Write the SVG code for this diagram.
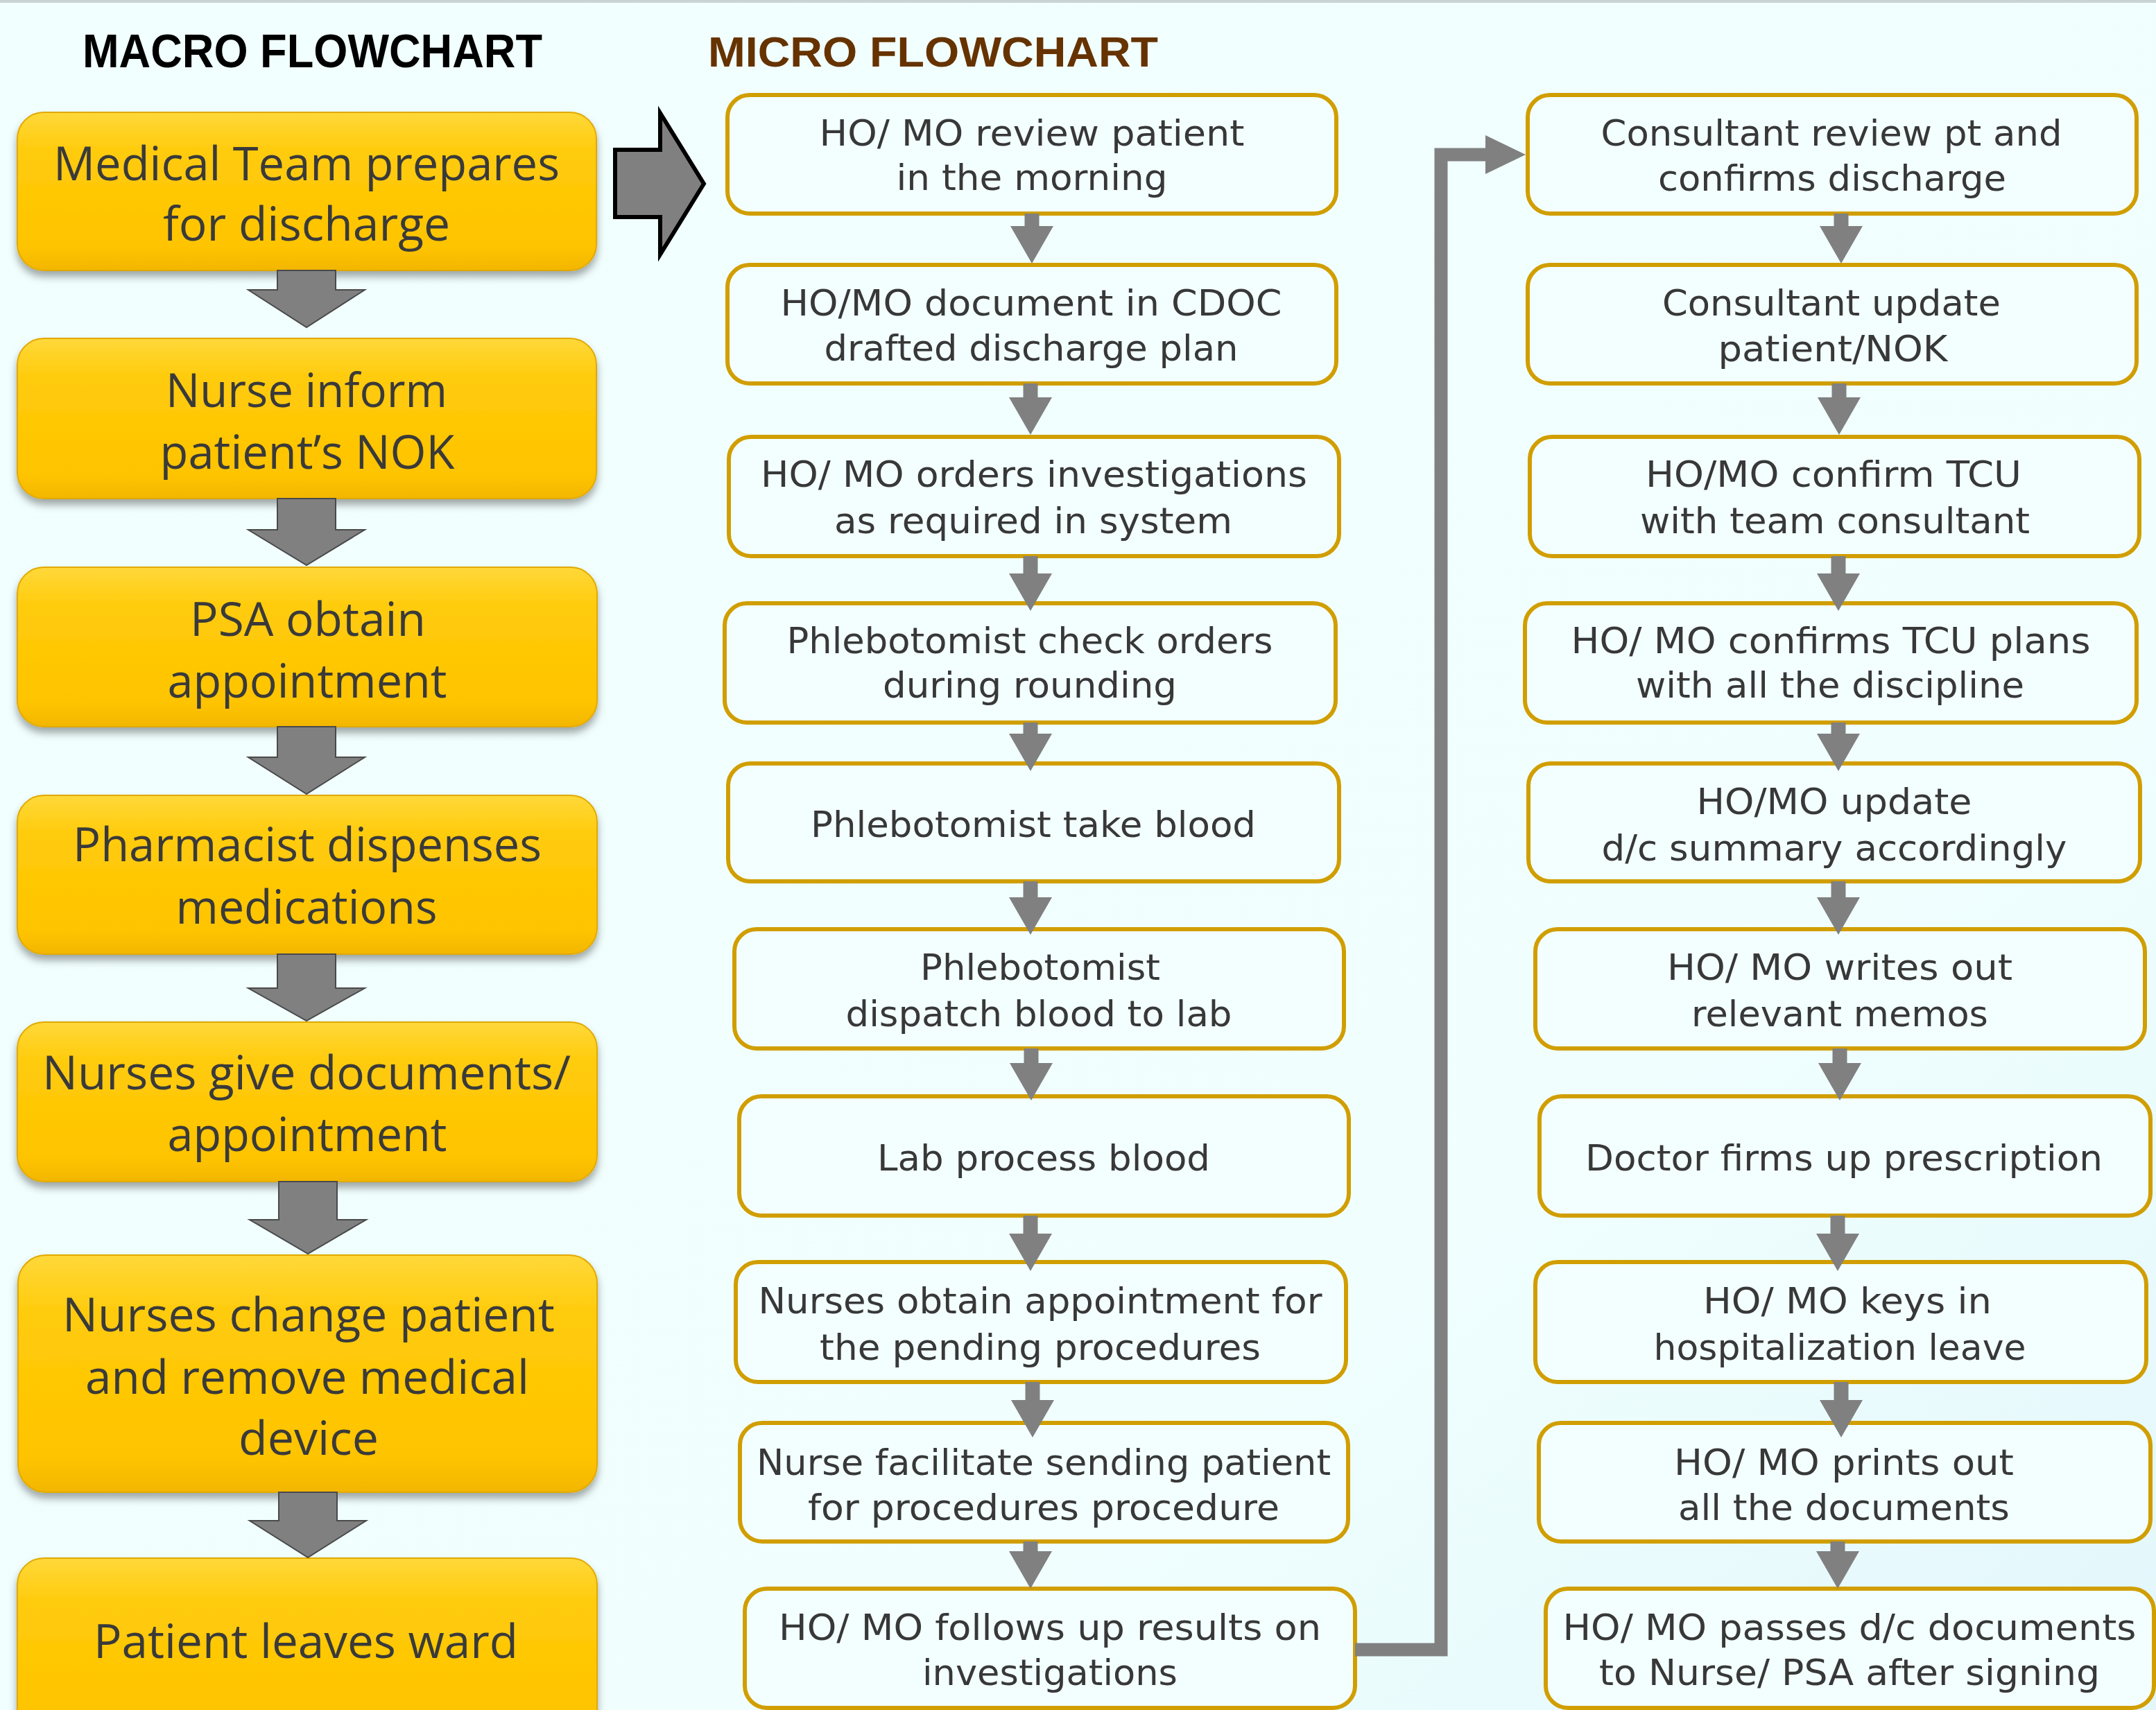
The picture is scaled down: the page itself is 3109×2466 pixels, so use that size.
<svg xmlns="http://www.w3.org/2000/svg" width="3109" height="2466" viewBox="0 0 3109 2466">
<defs>
<linearGradient id="bg" x1="0" y1="0" x2="1" y2="1">
<stop offset="0" stop-color="#F1FFFE"/>
<stop offset="0.7" stop-color="#F0FFFE"/>
<stop offset="1" stop-color="#E2F6FB"/>
</linearGradient>
<linearGradient id="gold" x1="0" y1="0" x2="0" y2="1">
<stop offset="0" stop-color="#FFD83A"/>
<stop offset="0.25" stop-color="#FFCB0A"/>
<stop offset="0.85" stop-color="#FFC400"/>
<stop offset="1" stop-color="#F2B600"/>
</linearGradient>
<filter id="sh" x="-10%" y="-10%" width="120%" height="130%">
<feGaussianBlur in="SourceAlpha" stdDeviation="6"/>
<feOffset dx="0" dy="8" result="b"/>
<feFlood flood-color="#000" flood-opacity="0.35"/>
<feComposite in2="b" operator="in"/>
<feMerge><feMergeNode/><feMergeNode in="SourceGraphic"/></feMerge>
</filter>
<marker id="ah" viewBox="0 0 54 62" refX="0" refY="31" markerWidth="54" markerHeight="62" markerUnits="userSpaceOnUse" orient="auto">
<path d="M0,0 L54,31 L0,62 z" fill="#808080"/>
</marker>
<marker id="ah2" viewBox="0 0 58 56" refX="0" refY="28" markerWidth="58" markerHeight="56" markerUnits="userSpaceOnUse" orient="auto">
<path d="M0,0 L58,28 L0,56 z" fill="#808080"/>
</marker>
</defs>
<style>
.macro rect{fill:url(#gold);stroke:#E2A900;stroke-width:2;filter:url(#sh)}
.macro text{font-family:"Open Sans","Liberation Sans",sans-serif;font-size:67px;fill:#3A3A3A;text-anchor:middle}
.micro rect{fill:#F3FFFF;stroke:#D19E00;stroke-width:6}
.micro text{font-family:"DejaVu Sans","Liberation Sans",sans-serif;font-size:52px;fill:#383838;text-anchor:middle}
.barrow{fill:#808080;stroke:#4A4A4A;stroke-width:2}
.conn line,.conn polyline{stroke:#808080;stroke-width:21;fill:none;marker-end:url(#ah)}
.conn polyline.long{stroke-width:19;stroke-linejoin:miter;marker-end:url(#ah2)}
.title{font-family:"Liberation Sans","Open Sans",sans-serif;font-weight:bold}
</style>
<rect x="0" y="0" width="3109" height="2466" fill="url(#bg)"/>
<rect x="0" y="0" width="3109" height="4" fill="#C9D3D3"/>

<text class="title" x="119" y="97" font-size="68" fill="#000000" textLength="663" lengthAdjust="spacingAndGlyphs">MACRO FLOWCHART</text>
<text class="title" x="1021" y="96" font-size="62" fill="#663300" textLength="649" lengthAdjust="spacingAndGlyphs">MICRO FLOWCHART</text>

<!-- Macro nodes -->
<g id="m1" class="macro"><rect x="25" y="162" width="835" height="228" rx="38"/>
<text x="442" y="260" textLength="730" lengthAdjust="spacingAndGlyphs">Medical Team prepares</text>
<text x="442" y="347" textLength="414" lengthAdjust="spacingAndGlyphs">for discharge</text></g>
<g id="m2" class="macro"><rect x="25" y="488" width="835" height="231" rx="38"/>
<text x="442" y="587" textLength="406" lengthAdjust="spacingAndGlyphs">Nurse inform</text>
<text x="443" y="676" textLength="425" lengthAdjust="spacingAndGlyphs">patient’s NOK</text></g>
<g id="m3" class="macro"><rect x="25" y="818" width="836" height="230" rx="38"/>
<text x="444" y="917" textLength="340" lengthAdjust="spacingAndGlyphs">PSA obtain</text>
<text x="443" y="1006" textLength="403" lengthAdjust="spacingAndGlyphs">appointment</text></g>
<g id="m4" class="macro"><rect x="25" y="1147" width="836" height="229" rx="38"/>
<text x="443" y="1242" textLength="676" lengthAdjust="spacingAndGlyphs">Pharmacist dispenses</text>
<text x="442" y="1332" textLength="377" lengthAdjust="spacingAndGlyphs">medications</text></g>
<g id="m5" class="macro"><rect x="25" y="1474" width="836" height="230" rx="38"/>
<text x="442" y="1571" textLength="762" lengthAdjust="spacingAndGlyphs">Nurses give documents/</text>
<text x="443" y="1660" textLength="403" lengthAdjust="spacingAndGlyphs">appointment</text></g>
<g id="m6" class="macro"><rect x="26" y="1810" width="835" height="342" rx="40"/>
<text x="445" y="1920" textLength="710" lengthAdjust="spacingAndGlyphs">Nurses change patient</text>
<text x="443" y="2010" textLength="640" lengthAdjust="spacingAndGlyphs">and remove medical</text>
<text x="445" y="2098" textLength="202" lengthAdjust="spacingAndGlyphs">device</text></g>
<g id="m7" class="macro"><rect x="25" y="2247" width="836" height="260" rx="38"/>
<text x="441" y="2391" textLength="612" lengthAdjust="spacingAndGlyphs">Patient leaves ward</text></g>

<!-- Micro nodes left column -->
<g id="l1" class="micro"><rect x="1049" y="137" width="878" height="171" rx="32"/>
<text x="1488" y="210" textLength="613" lengthAdjust="spacingAndGlyphs">HO/ MO review patient</text>
<text x="1488" y="274" textLength="391" lengthAdjust="spacingAndGlyphs">in the morning</text></g>
<g id="l2" class="micro"><rect x="1049" y="382" width="878" height="171" rx="32"/>
<text x="1487" y="455" textLength="723" lengthAdjust="spacingAndGlyphs">HO/MO document in CDOC</text>
<text x="1487" y="520" textLength="597" lengthAdjust="spacingAndGlyphs">drafted discharge plan</text></g>
<g id="l3" class="micro"><rect x="1051" y="630" width="880" height="172" rx="32"/>
<text x="1491" y="702" textLength="788" lengthAdjust="spacingAndGlyphs">HO/ MO orders investigations</text>
<text x="1490" y="769" textLength="574" lengthAdjust="spacingAndGlyphs">as required in system</text></g>
<g id="l4" class="micro"><rect x="1045" y="870" width="881" height="172" rx="32"/>
<text x="1485" y="942" textLength="701" lengthAdjust="spacingAndGlyphs">Phlebotomist check orders</text>
<text x="1485" y="1006" textLength="424" lengthAdjust="spacingAndGlyphs">during rounding</text></g>
<g id="l5" class="micro"><rect x="1050" y="1101" width="881" height="170" rx="32"/>
<text x="1490" y="1207" textLength="642" lengthAdjust="spacingAndGlyphs">Phlebotomist take blood</text></g>
<g id="l6" class="micro"><rect x="1059" y="1340" width="879" height="172" rx="32"/>
<text x="1500" y="1413" textLength="346" lengthAdjust="spacingAndGlyphs">Phlebotomist</text>
<text x="1498" y="1480" textLength="557" lengthAdjust="spacingAndGlyphs">dispatch blood to lab</text></g>
<g id="l7" class="micro"><rect x="1066" y="1581" width="879" height="172" rx="32"/>
<text x="1505" y="1688" textLength="480" lengthAdjust="spacingAndGlyphs">Lab process blood</text></g>
<g id="l8" class="micro"><rect x="1061" y="1820" width="880" height="173" rx="32"/>
<text x="1500" y="1894" textLength="813" lengthAdjust="spacingAndGlyphs">Nurses obtain appointment for</text>
<text x="1500" y="1961" textLength="636" lengthAdjust="spacingAndGlyphs">the pending procedures</text></g>
<g id="l9" class="micro"><rect x="1067" y="2052" width="877" height="171" rx="32"/>
<text x="1505" y="2127" textLength="828" lengthAdjust="spacingAndGlyphs">Nurse facilitate sending patient</text>
<text x="1505" y="2192" textLength="680" lengthAdjust="spacingAndGlyphs">for procedures procedure</text></g>
<g id="l10" class="micro"><rect x="1074" y="2291" width="880" height="172" rx="32"/>
<text x="1514" y="2365" textLength="782" lengthAdjust="spacingAndGlyphs">HO/ MO follows up results on</text>
<text x="1514" y="2430" textLength="368" lengthAdjust="spacingAndGlyphs">investigations</text></g>

<!-- Micro nodes right column -->
<g id="r1" class="micro"><rect x="2203" y="137" width="878" height="171" rx="32"/>
<text x="2641" y="210" textLength="665" lengthAdjust="spacingAndGlyphs">Consultant review pt and</text>
<text x="2642" y="275" textLength="502" lengthAdjust="spacingAndGlyphs">confirms discharge</text></g>
<g id="r2" class="micro"><rect x="2203" y="382" width="878" height="171" rx="32"/>
<text x="2641" y="455" textLength="488" lengthAdjust="spacingAndGlyphs">Consultant update</text>
<text x="2643" y="521" textLength="331" lengthAdjust="spacingAndGlyphs">patient/NOK</text></g>
<g id="r3" class="micro"><rect x="2206" y="630" width="879" height="172" rx="32"/>
<text x="2644" y="702" textLength="542" lengthAdjust="spacingAndGlyphs">HO/MO confirm TCU</text>
<text x="2646" y="769" textLength="562" lengthAdjust="spacingAndGlyphs">with team consultant</text></g>
<g id="r4" class="micro"><rect x="2199" y="870" width="882" height="172" rx="32"/>
<text x="2640" y="942" textLength="749" lengthAdjust="spacingAndGlyphs">HO/ MO confirms TCU plans</text>
<text x="2639" y="1006" textLength="560" lengthAdjust="spacingAndGlyphs">with all the discipline</text></g>
<g id="r5" class="micro"><rect x="2204" y="1101" width="882" height="170" rx="32"/>
<text x="2645" y="1174" textLength="397" lengthAdjust="spacingAndGlyphs">HO/MO update</text>
<text x="2645" y="1241" textLength="671" lengthAdjust="spacingAndGlyphs">d/c summary accordingly</text></g>
<g id="r6" class="micro"><rect x="2214" y="1340" width="879" height="172" rx="32"/>
<text x="2653" y="1413" textLength="498" lengthAdjust="spacingAndGlyphs">HO/ MO writes out</text>
<text x="2653" y="1480" textLength="428" lengthAdjust="spacingAndGlyphs">relevant memos</text></g>
<g id="r7" class="micro"><rect x="2220" y="1581" width="881" height="172" rx="32"/>
<text x="2659" y="1688" textLength="746" lengthAdjust="spacingAndGlyphs">Doctor firms up prescription</text></g>
<g id="r8" class="micro"><rect x="2214" y="1820" width="881" height="173" rx="32"/>
<text x="2664" y="1894" textLength="416" lengthAdjust="spacingAndGlyphs">HO/ MO keys in</text>
<text x="2653" y="1961" textLength="537" lengthAdjust="spacingAndGlyphs">hospitalization leave</text></g>
<g id="r9" class="micro"><rect x="2219" y="2052" width="882" height="171" rx="32"/>
<text x="2659" y="2127" textLength="490" lengthAdjust="spacingAndGlyphs">HO/ MO prints out</text>
<text x="2659" y="2192" textLength="478" lengthAdjust="spacingAndGlyphs">all the documents</text></g>
<g id="r10" class="micro"><rect x="2229" y="2291" width="877" height="172" rx="32"/>
<text x="2667" y="2365" textLength="827" lengthAdjust="spacingAndGlyphs">HO/ MO passes d/c documents</text>
<text x="2667" y="2430" textLength="722" lengthAdjust="spacingAndGlyphs">to Nurse/ PSA after signing</text></g>

<!-- Connectors -->
<g id="connectors" class="conn">
<polygon class="barrow" points="400,390 484,390 484,418 526,418 442,472 358,418 400,418"/>
<polygon class="barrow" points="400,719 484,719 484,764 526,764 442,815 358,764 400,764"/>
<polygon class="barrow" points="400,1048 484,1048 484,1092 526,1092 442,1145 358,1092 400,1092"/>
<polygon class="barrow" points="400,1376 484,1376 484,1425 526,1425 442,1472 358,1425 400,1425"/>
<polygon class="barrow" points="402,1704 486,1704 486,1759 528,1759 444,1808 360,1759 402,1759"/>
<polygon class="barrow" points="402,2152 486,2152 486,2193 528,2193 444,2246 360,2193 402,2193"/>
<polygon points="887,216 952,216 952,163 1015,265 952,367 952,313 887,313" fill="#808080" stroke="#000000" stroke-width="6" stroke-linejoin="miter"/>

<line x1="1488" y1="308" x2="1488" y2="326"/>
<line x1="1486" y1="553" x2="1486" y2="573"/>
<line x1="1486" y1="802" x2="1486" y2="827"/>
<line x1="1486" y1="1042" x2="1486" y2="1058"/>
<line x1="1486" y1="1271" x2="1486" y2="1294"/>
<line x1="1487" y1="1512" x2="1487" y2="1533"/>
<line x1="1486" y1="1753" x2="1486" y2="1779"/>
<line x1="1489" y1="1993" x2="1489" y2="2019"/>
<line x1="1486" y1="2223" x2="1486" y2="2237"/>

<line x1="2655" y1="308" x2="2655" y2="326"/>
<line x1="2652" y1="553" x2="2652" y2="573"/>
<line x1="2651" y1="802" x2="2651" y2="827"/>
<line x1="2651" y1="1042" x2="2651" y2="1058"/>
<line x1="2651" y1="1271" x2="2651" y2="1294"/>
<line x1="2653" y1="1512" x2="2653" y2="1533"/>
<line x1="2650" y1="1753" x2="2650" y2="1779"/>
<line x1="2655" y1="1993" x2="2655" y2="2019"/>
<line x1="2650" y1="2223" x2="2650" y2="2237"/>

<polyline class="long" points="1954,2379 2078,2379 2078,223 2142,223"/>
</g>
</svg>
